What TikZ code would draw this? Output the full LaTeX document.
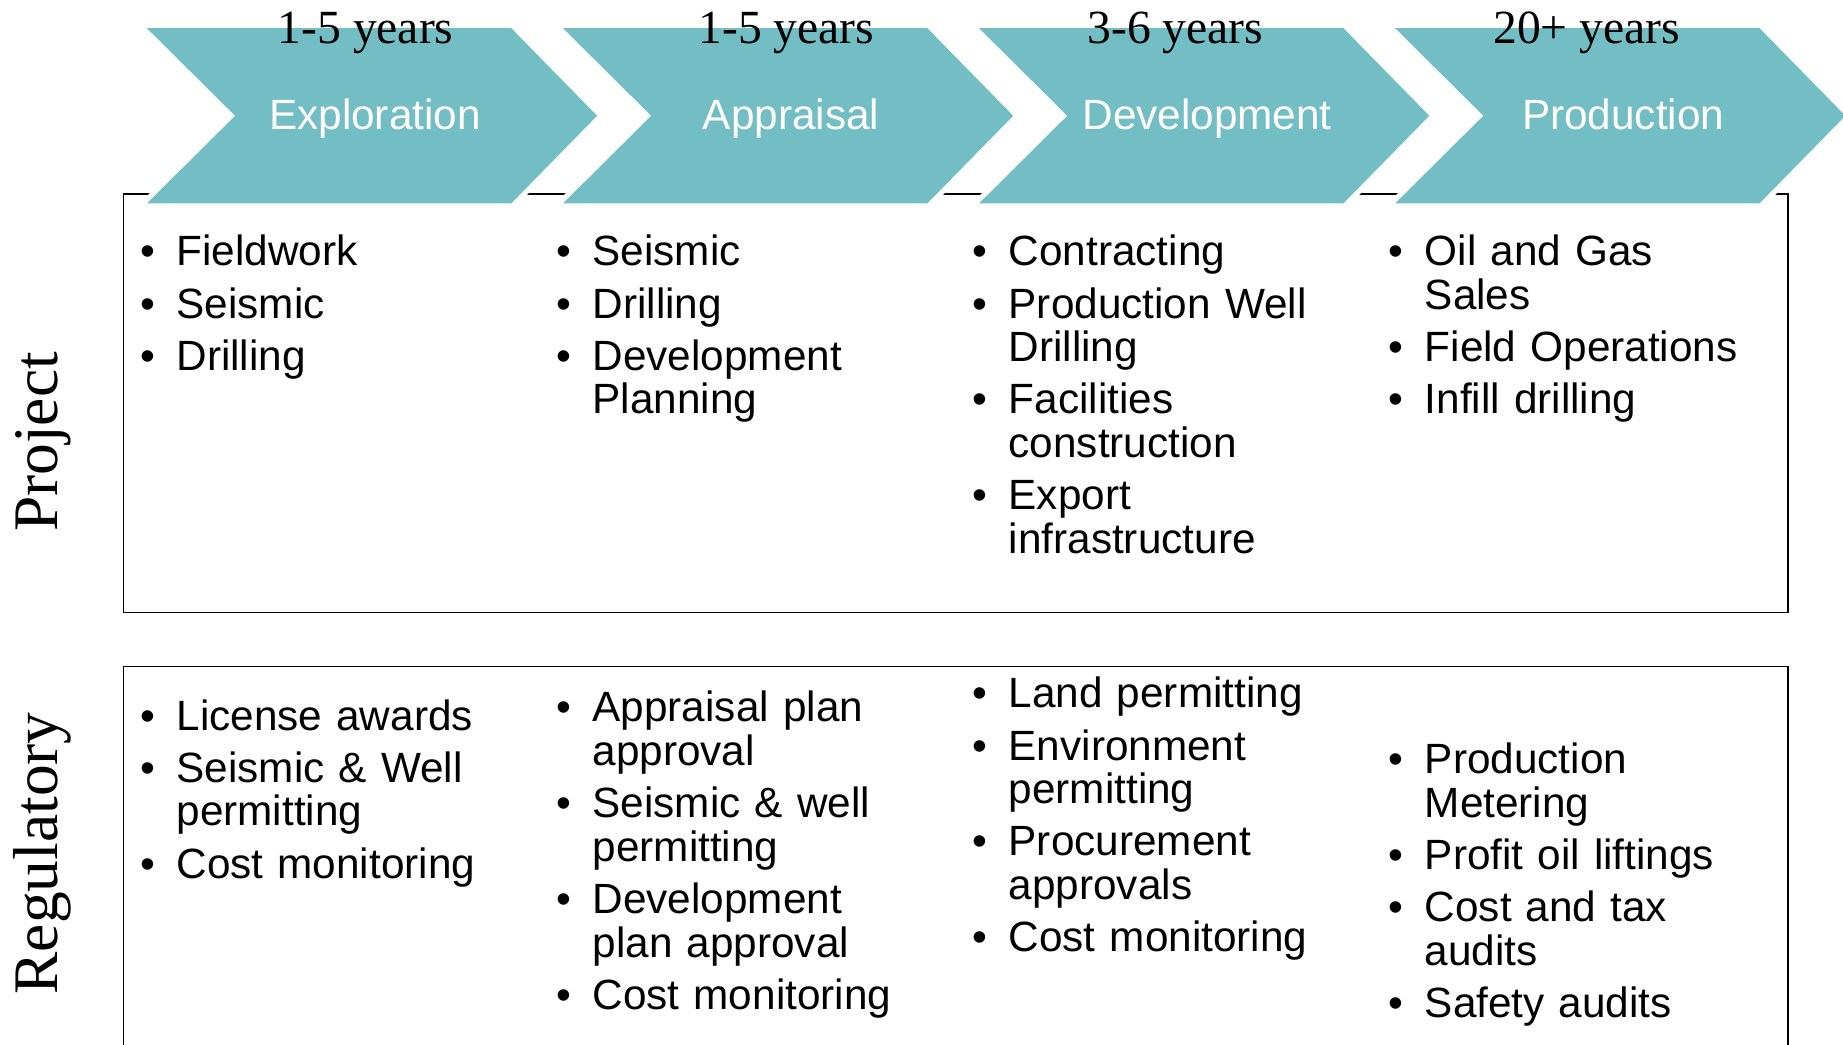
\documentclass[tikz,border=0pt]{standalone}
\usepackage{fontspec}
\setmainfont{Liberation Serif}
\setsansfont{Liberation Sans}
\newfontfamily\arialf{Liberation Sans}
\newfontfamily\timesf{Liberation Serif}
\definecolor{chev}{HTML}{72BEC4}
\newcommand\bstrut{\rule[-9pt]{0pt}{37pt}}
\newcommand\fitem[1]{\noindent\hangindent=31pt\hangafter=1\makebox[31pt][l]{\textbullet}\bstrut#1\par}
\newcommand\bitem[1]{\vskip7.5pt\relax\fitem{#1}}
\newcommand\listsetup{\setlength\parskip{0pt}\lineskiplimit=-100pt\relax\raggedright}
\tikzset{
  chevron/.style={fill=chev, preaction={draw=white, line width=9pt, line join=miter}},
  panel/.style={draw=black, line width=1.4pt},
  phase/.style={anchor=base, text=white, inner sep=0, font=\arialf\fontsize{36}{40}\selectfont},
  years/.style={anchor=base, inner sep=0, font=\timesf\fontsize{40.5}{44}\selectfont},
  side/.style={anchor=base, rotate=90, inner sep=0, font=\timesf\fontsize{54}{60}\selectfont},
  blist/.style={anchor=north west, inner sep=0, text width=380pt,
    font=\arialf\fontsize{36}{37}\selectfont, execute at begin node=\listsetup}
}
\begin{document}
\begin{tikzpicture}[x=1pt, y=-1pt]
\useasboundingbox (0,0) rectangle (1568,889);
% panels
\draw[panel] (105,165) rectangle (1521,521);
\draw[panel] (105,895) -- (105,567) -- (1521,567) -- (1521,895);
% chevrons
\foreach \k in {0,1,2,3}{
  \pgfmathsetmacro\xo{125+354*\k}
  \path[chevron] (\xo,24) -- (\xo+310,24) -- (\xo+383,98.5) -- (\xo+310,173)
     -- (\xo,173) -- (\xo+75,98.5) -- cycle;
}
% phase names
\node[phase] (ph1) at (319,110) {Exploration};
\node[phase] (ph2) at (673,110) {Appraisal};
\node[phase] (ph3) at (1027,110) {Development};
\node[phase] (ph4) at (1381,110) {Production};
% durations
\node[years] (y1) at (311,37) {1-5 years};
\node[years] (y2) at (669,37) {1-5 years};
\node[years] (y3) at (1000,37) {3-6 years};
\node[years] (y4) at (1350,37) {20+ years};
% side labels
\node[side] (sproj) at (49,376) {Project};
\node[side] (sreg) at (49,726) {Regulatory};
% project lists
\node[blist] (p1) at (119,198) {\fitem{Fieldwork}\bitem{Seismic}\bitem{Drilling}};
\node[blist] (p2) at (473,198) {\fitem{Seismic}\bitem{Drilling}\bitem{Development\newline Planning}};
\node[blist] (p3) at (827,198) {\fitem{Contracting}\bitem{Production Well\newline Drilling}\bitem{Facilities\newline construction}\bitem{Export\newline infrastructure}};
\node[blist] (p4) at (1181,198) {\fitem{Oil and Gas\newline Sales}\bitem{Field Operations}\bitem{Infill drilling}};
% regulatory lists
\node[blist] (r1) at (119,593) {\fitem{License awards}\bitem{Seismic \& Well\newline permitting}\bitem{Cost monitoring}};
\node[blist] (r2) at (473,586) {\fitem{Appraisal plan\newline approval}\bitem{Seismic \& well\newline permitting}\bitem{Development\newline plan approval}\bitem{Cost monitoring}};
\node[blist] (r3) at (827,574) {\fitem{Land permitting}\bitem{Environment\newline permitting}\bitem{Procurement\newline approvals}\bitem{Cost monitoring}};
\node[blist] (r4) at (1181,630) {\fitem{Production\newline Metering}\bitem{Profit oil liftings}\bitem{Cost and tax\newline audits}\bitem{Safety audits}};
\end{tikzpicture}
\end{document}
